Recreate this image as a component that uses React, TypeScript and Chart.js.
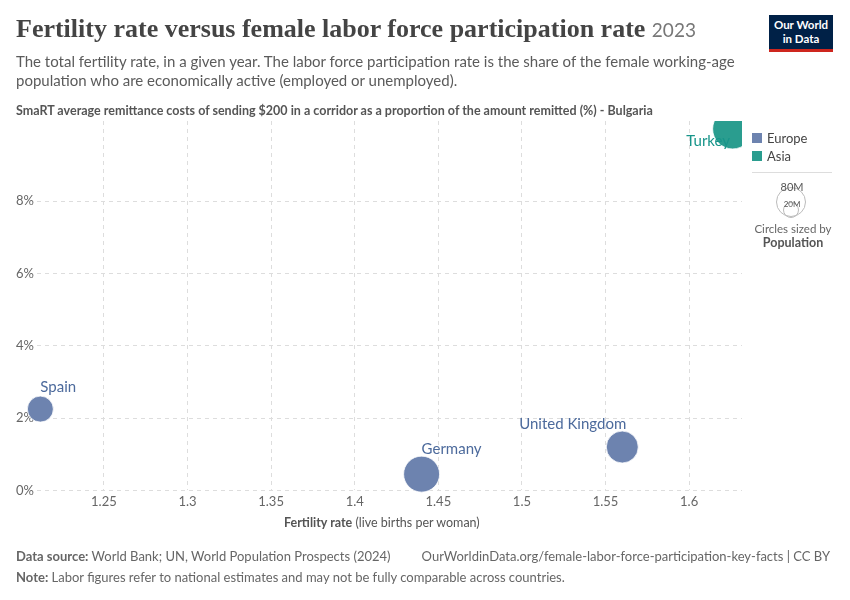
import React, { useEffect, useRef } from "react";
import { Chart, registerables } from "chart.js";
Chart.register(...registerables);

const countries = ["Spain", "Germany", "United Kingdom", "Turkey"];
const fertility = [1.212, 1.44, 1.56, 1.626];
const remitCost = [2.25, 0.45, 1.2, 10.0];
const radii = [13, 18, 16, 20];
const regions = ["Europe", "Europe", "Europe", "Asia"];
const yTicks = [0, 2, 4, 6, 8];
const xTicks = [1.25, 1.3, 1.35, 1.4, 1.45, 1.5, 1.55, 1.6];
const regionColors: Record<string, string> = { Europe: "#6d83af", Asia: "#2a9d8f" };
const labelColors: Record<string, string> = { Europe: "#4c6a9c", Asia: "#18958a" };

const FONT = "Lato, 'Noto Sans', sans-serif";

export default function App() {
  const ref = useRef<HTMLCanvasElement>(null);
  useEffect(() => {
    const labelPlugin = {
      id: "labels",
      afterDatasetsDraw(chart: any) {
        const ctx = chart.ctx;
        const xs = chart.scales.x, ys = chart.scales.y;
        ctx.save();
        ctx.font = `15px ${FONT}`;
        countries.forEach((c, i) => {
          const px = xs.getPixelForValue(fertility[i]);
          const py = ys.getPixelForValue(remitCost[i]);
          ctx.fillStyle = labelColors[regions[i]];
          ctx.textAlign = "left";
          ctx.textBaseline = "alphabetic";
          const w = ctx.measureText(c).width;
          let tx = px, ty = py;
          if (i === 0) { tx = px; ty = py - 17; }
          if (i === 1) { tx = px; ty = py - 20; }
          if (i === 2) { tx = px - w + 4; ty = py - 18; }
          if (i === 3) { tx = xs.right - 12 - w; ty = py + 17; }
          ctx.fillText(c, tx, ty);
        });
        ctx.restore();
      },
    };
    const chart = new Chart(ref.current!, {
      type: "bubble",
      data: {
        datasets: [
          {
            data: countries.map((_, i) => ({ x: fertility[i], y: remitCost[i], r: radii[i] })),
            backgroundColor: regions.map((r) => regionColors[r]),
            borderColor: "#ffffff",
            borderWidth: 0.8,
            clip: { left: false, top: 0, right: 0, bottom: false },
          },
        ],
      },
      options: {
        animation: false,
        responsive: false,
        plugins: { legend: { display: false }, tooltip: { enabled: false } },
        layout: { padding: { top: 121, bottom: 86, right: 108, left: 0 } },
        scales: {
          x: {
            type: "linear",
            min: 1.21,
            max: 1.6316,
            afterBuildTicks: (a: any) => { a.ticks = xTicks.map((v) => ({ value: v })); },
            ticks: { color: "#666", font: { family: FONT, size: 13 }, padding: 4, callback: (v: any) => String(Number(v)) },
            grid: { color: "#ddd", drawTicks: false },
            border: { display: false, dash: [4, 4] },
          },
          y: {
            type: "linear",
            min: 0,
            max: 10.22,
            afterBuildTicks: (a: any) => { a.ticks = yTicks.map((v) => ({ value: v })); },
            afterFit: (a: any) => { a.width = 37; },
            ticks: { color: "#666", font: { family: FONT, size: 13 }, padding: 3, callback: (v: any) => v + "%" },
            grid: { color: "#ddd", drawTicks: false },
            border: { display: false, dash: [4, 4] },
          },
        },
      },
      plugins: [labelPlugin],
    } as any);
    return () => chart.destroy();
  }, []);

  const txt: React.CSSProperties = { position: "absolute", fontFamily: FONT, margin: 0, whiteSpace: "nowrap" };
  return (
    <div style={{ position: "fixed", left: 0, top: 0, width: 850, height: 600, background: "#fff", overflow: "hidden" }}>
      <canvas ref={ref} width={850} height={600} style={{ position: "absolute", left: 0, top: 0 }} />
      <div style={{ ...txt, left: 16, top: 14, fontFamily: "'Liberation Serif', 'DejaVu Serif', serif", fontWeight: 700, fontSize: 26, color: "#444" }}>
        Fertility rate versus female labor force participation rate <span style={{ fontSize: 19, color: "#777", fontFamily: FONT, fontWeight: 400 }}>2023</span>
      </div>
      <div style={{ ...txt, left: 16, top: 52, fontSize: 15, color: "#5b5b5b", lineHeight: "19px", whiteSpace: "normal", width: 740 }}>
        The total fertility rate, in a given year. The labor force participation rate is the share of the female working-age population who are economically active (employed or unemployed).
      </div>
      <div style={{ ...txt, left: 16, top: 103, fontSize: 12.5, fontWeight: 700, color: "#555" }}>
        SmaRT average remittance costs of sending $200 in a corridor as a proportion of the amount remitted (%) - Bulgaria
      </div>
      <div style={{ position: "absolute", left: 769, top: 15, width: 64, height: 37, background: "#002147", borderBottom: "3px solid #ce261e", color: "#fff", fontFamily: FONT, fontSize: 11.5, fontWeight: 700, textAlign: "center", lineHeight: "14px", paddingTop: 3, boxSizing: "border-box" }}>
        Our World<br />in Data
      </div>
      <div style={{ ...txt, left: 752, top: 130, fontSize: 13, color: "#444" }}>
        <div><span style={{ display: "inline-block", width: 10, height: 10, background: regionColors.Europe, marginRight: 5 }} />Europe</div>
        <div style={{ marginTop: 2 }}><span style={{ display: "inline-block", width: 10, height: 10, background: regionColors.Asia, marginRight: 5 }} />Asia</div>
      </div>
      <div style={{ position: "absolute", left: 752, top: 172, width: 80, borderTop: "1px solid #ddd" }} />
      <div style={{ position: "absolute", left: 776, top: 187, width: 30, height: 30, border: "1.5px solid #bbb", borderRadius: "50%", boxSizing: "border-box" }} />
      <div style={{ position: "absolute", left: 783, top: 202, width: 16, height: 16, border: "1.5px solid #bbb", borderRadius: "50%", boxSizing: "border-box" }} />
      <div style={{ ...txt, left: 772, top: 180, width: 40, textAlign: "center", fontSize: 11, color: "#555", background: "transparent" }}>80M</div>
      <div style={{ ...txt, left: 772, top: 199, width: 40, textAlign: "center", fontSize: 8, color: "#555" }}>20M</div>
      <div style={{ ...txt, left: 752, top: 222, width: 82, textAlign: "center", fontSize: 11.5, color: "#666", lineHeight: "14px" }}>
        Circles sized by<br /><b style={{ color: "#555", fontSize: 12.5 }}>Population</b>
      </div>
      <div style={{ ...txt, left: 284, top: 515, fontSize: 12.5, color: "#555" }}>
        <b>Fertility rate</b> (live births per woman)
      </div>
      <div style={{ ...txt, left: 16, top: 548, fontSize: 13, color: "#666" }}>
        <b>Data source:</b> World Bank; UN, World Population Prospects (2024)
      </div>
      <div style={{ ...txt, right: 20, top: 548, fontSize: 13, color: "#666" }}>
        OurWorldinData.org/female-labor-force-participation-key-facts | CC BY
      </div>
      <div style={{ ...txt, left: 16, top: 569, fontSize: 13, color: "#666" }}>
        <b>Note:</b> Labor figures refer to national estimates and may not be fully comparable across countries.
      </div>
    </div>
  );
}
